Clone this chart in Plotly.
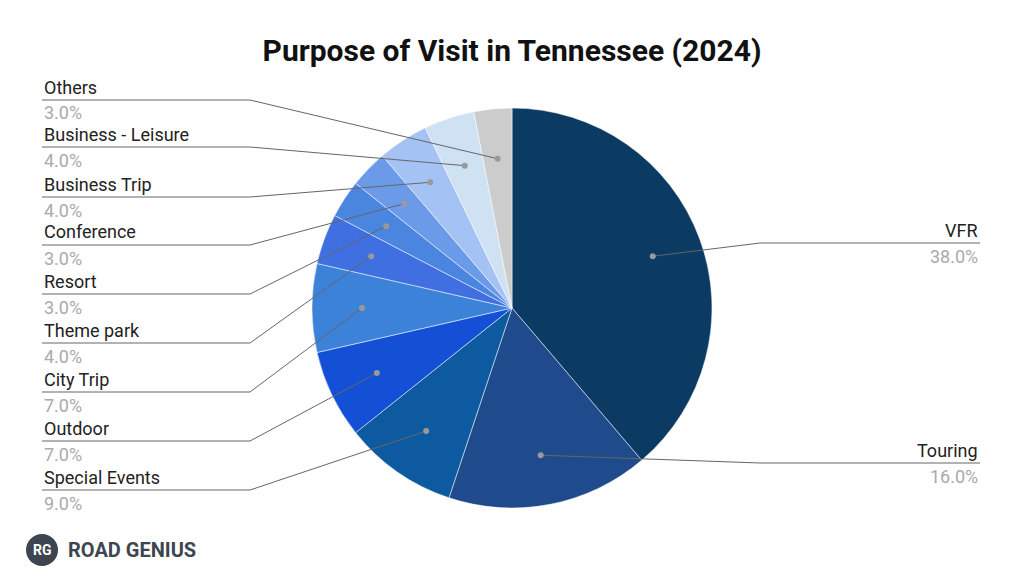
import math
import plotly.graph_objects as go

labels = ["VFR", "Touring", "Special Events", "Outdoor", "City Trip", "Theme park",
          "Resort", "Conference", "Business Trip", "Business - Leisure", "Others"]
values = [38, 16, 9, 7, 7, 4, 3, 3, 4, 4, 3]
colors = ["#0b3a63", "#1f4a8c", "#0d5aa0", "#1450d6", "#3b82d8", "#3f6fe0",
          "#4a86e0", "#6a9ae8", "#a4c2f4", "#cfe2f3", "#cccccc"]
# label row (pixel y of name in the reference)
label_y = {"VFR": 230, "Touring": 450, "Special Events": 477, "Outdoor": 428,
           "City Trip": 379, "Theme park": 330, "Resort": 281, "Conference": 232,
           "Business Trip": 184, "Business - Leisure": 134, "Others": 87}

# page has an 8px body margin, so draw in a slightly smaller figure
OFF = 8
W, H = 1024 - 2 * OFF, 582 - 2 * OFF
cx, cy, r = 512, 308, 200


def px(x, y):
    return (x - OFF) / W, 1 - (y - OFF) / H


fig = go.Figure(go.Pie(
    labels=labels, values=values, sort=False, direction="clockwise", rotation=0,
    marker=dict(colors=colors, line=dict(color="#ffffff", width=0.5)),
    textinfo="none", hoverinfo="label+percent", showlegend=False,
    domain=dict(x=[px(cx - r, 0)[0], px(cx + r, 0)[0]],
                y=[px(0, cy + r)[1], px(0, cy - r)[1]]),
))

total = sum(values)
cum = 0
shapes, annotations = [], []
for lab, v in zip(labels, values):
    mid = (cum + v / 2) / total
    cum += v
    ang = math.radians(90 - mid * 360)
    dx, dy = cx + 0.75 * r * math.cos(ang), cy - 0.75 * r * math.sin(ang)
    ly = label_y[lab]
    line_y = ly + 13
    if lab in ("VFR", "Touring"):
        x0, x1, tx, anchor = 980, 760, 980, "right"
    else:
        x0, x1, tx, anchor = 42, 250, 42, "left"
    a, b = px(x0, line_y)
    c, d = px(x1, line_y)
    e, f = px(dx, dy)
    shapes.append(dict(type="line", xref="paper", yref="paper", x0=a, y0=b, x1=c, y1=d,
                       line=dict(color="#666666", width=1)))
    shapes.append(dict(type="line", xref="paper", yref="paper", x0=c, y0=d, x1=e, y1=f,
                       line=dict(color="#666666", width=1)))
    p0, q0 = px(dx - 3, dy + 3)
    p1, q1 = px(dx + 3, dy - 3)
    shapes.append(dict(type="circle", xref="paper", yref="paper", x0=p0, x1=p1, y0=q0, y1=q1,
                       fillcolor="#999999", line=dict(width=0)))
    tx_p, ty_p = px(tx, ly)
    annotations.append(dict(text=lab, x=tx_p, y=ty_p, xref="paper", yref="paper",
                            xanchor=anchor, yanchor="middle", showarrow=False,
                            font=dict(size=18, color="#222222")))
    tx_p, ty_p = px(tx, ly + 26)
    annotations.append(dict(text=f"{v:.1f}%", x=tx_p, y=ty_p, xref="paper", yref="paper",
                            xanchor=anchor, yanchor="middle", showarrow=False,
                            font=dict(size=18, color="#aaaaaa")))

# logo
p0, q0 = px(26, 566)
p1, q1 = px(58, 534)
shapes.append(dict(type="circle", xref="paper", yref="paper", x0=p0, x1=p1, y0=q0, y1=q1,
                   fillcolor="#3d4650", line=dict(width=0), layer="below"))
lx, lyp = px(42, 550)
annotations.append(dict(text="<b>RG</b>", x=lx, y=lyp, xref="paper", yref="paper",
                        xanchor="center", yanchor="middle",
                        showarrow=False, font=dict(size=14, color="white")))
lx, lyp = px(66, 550)
annotations.append(dict(text="<b>ROAD GENIUS</b>", x=lx, y=lyp, xref="paper",
                        yref="paper", xanchor="left", yanchor="middle", showarrow=False,
                        font=dict(size=20, color="#3d4650")))

tx_p, ty_p = px(512, 50)
fig.update_layout(
    width=W, height=H, margin=dict(l=0, r=0, t=0, b=0),
    paper_bgcolor="white", plot_bgcolor="white",
    font=dict(family="Roboto, Arial"),
    title=dict(text="<b>Purpose of Visit in Tennessee (2024)</b>", x=tx_p, y=ty_p,
               xanchor="center", yanchor="middle", font=dict(size=30, color="#111111")),
    shapes=shapes, annotations=annotations,
)
fig.write_html("out.html")
